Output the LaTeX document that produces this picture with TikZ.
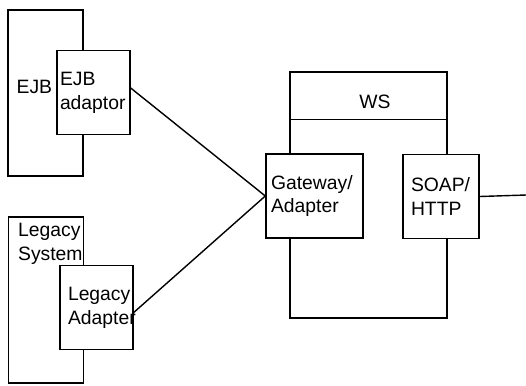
\documentclass[tikz,border=0pt]{standalone}
\usepackage{fontspec}
\setmainfont{Liberation Sans}
\usetikzlibrary{positioning, calc}

\begin{document}
\begin{tikzpicture}[
  sysbox/.style={draw, fill=white, line width=0.8pt,
                 minimum width=1.5cm, minimum height=3.32cm},
  adapt/.style={draw, fill=white, line width=0.8pt, inner sep=0.06cm,
                minimum width=1.46cm, minimum height=1.68cm,
                align=left, text width=1.34cm},
  wsbox/.style={draw, line width=0.8pt,
                minimum width=3.14cm, minimum height=4.92cm},
  inbox/.style={draw, fill=white, line width=0.8pt, inner sep=0.1cm,
                minimum height=1.68cm, align=left},
  txt/.style={inner sep=0pt, align=left},
  every node/.style={font=\fontsize{11}{13.5}\selectfont},
  wire/.style={line width=0.8pt}
]
  \useasboundingbox (0,0) rectangle (10.52,-7.7);

  % systems on the left
  \node[sysbox] (ejb) at (0.91, -1.86) {};
  \node[txt, anchor=west] at ($(ejb.west)+(0.18,0.12)$) {EJB};
  \node[adapt] (ejbad) at (1.87, -1.85) {EJB\\adaptor};

  \node[sysbox] (leg) at (0.92, -6.0) {};
  \node[txt, anchor=north west] at ($(leg.north west)+(0.2,-0.14)$)
    {Legacy\\System};
  \node[adapt] (legad) at (1.93, -6.15) {\hspace*{0.1cm}Legacy\\\hspace*{0.1cm}Adapter};

  % web service
  \node[wsbox] (ws) at (7.37, -3.9) {};
  \draw[wire] ($(ws.north west)+(0,-0.96)$) -- ($(ws.north east)+(0,-0.96)$);
  \node[txt] (wslbl) at (7.5, -2.04) {WS};

  \node[inbox, minimum width=1.94cm, text width=1.74cm] (gw) at (6.29, -3.92)
    {Gateway/\\Adapter};
  \node[inbox, minimum width=1.52cm, text width=1.2cm, inner sep=0.16cm] (soap) at (8.82, -3.93)
    {SOAP/\\HTTP};
  \coordinate (out) at (10.52, -3.9);

  % connectors
  \draw[wire] ($(ejbad.east)+(0,0.09)$) -- (gw.west);
  \draw[wire] ($(legad.east)+(0,-0.1)$) -- (gw.west);
  \draw[wire] (soap.east) -- (out);
\end{tikzpicture}
\end{document}
